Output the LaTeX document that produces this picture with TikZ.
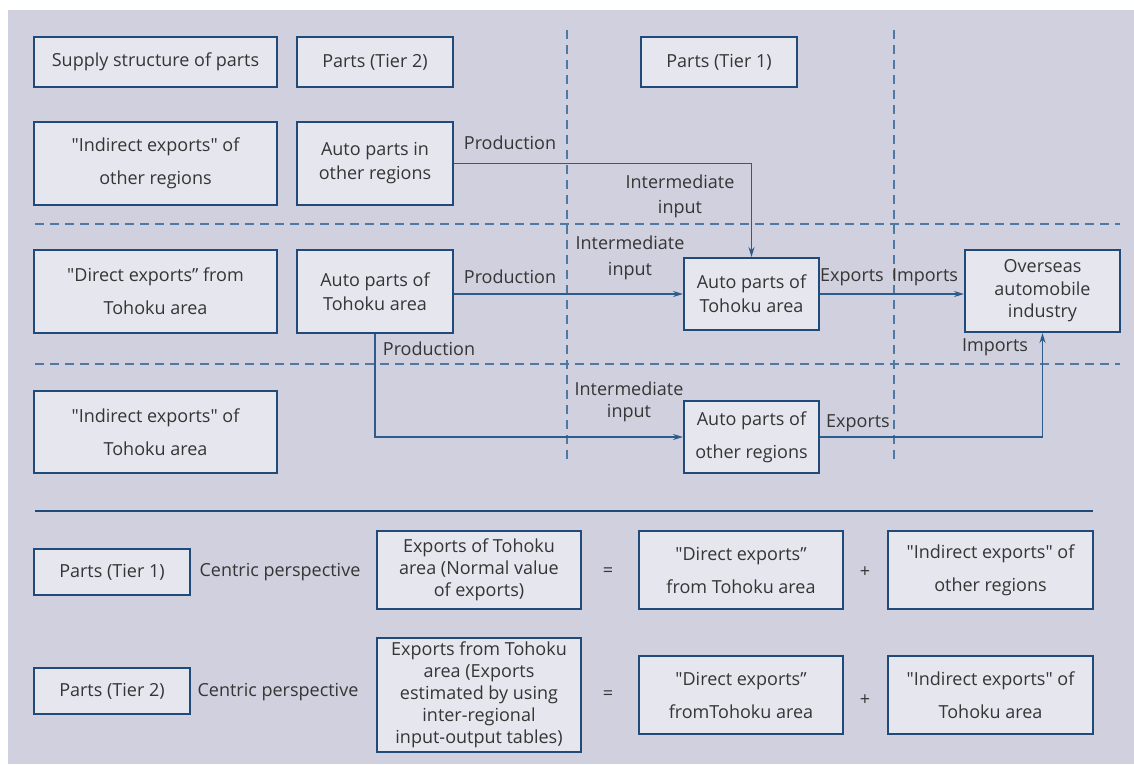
\documentclass[tikz,border=0pt]{standalone}
\usepackage{fontspec}
\setmainfont{Open Sans}[Ligatures=TeXOff]
\usetikzlibrary{arrows.meta}
\definecolor{bgcol}{HTML}{D0D0DE}
\definecolor{boxfill}{HTML}{E6E6EF}
\definecolor{boxline}{HTML}{1F4A7A}
\definecolor{flowcol}{HTML}{2D5B8C}
\definecolor{sepcol}{HTML}{4F79A3}
\definecolor{txtcol}{HTML}{353535}
\tikzset{
 box/.style={draw=boxline, line width=2pt, fill=boxfill, inner sep=0pt, align=center, text=txtcol},
 lbl/.style={inner sep=0pt, align=center, text=txtcol},
 flow/.style={draw=flowcol, line width=1.3pt, -{Stealth[length=10pt,width=6pt]}},
 sepline/.style={draw=sepcol, line width=1.3pt, dash pattern=on 9pt off 6pt},
 wide/.style={font=\fontsize{18}{33}\selectfont},
}
\newcommand{\panel}[7][]{%
 \node[box,minimum width={(#5-#3)*1pt},minimum height={(#6-#4)*1pt},#1] (#2) at ({(#3+#5)/2},{(#4+#6)/2}) {#7};%
}
\begin{document}
\begin{tikzpicture}[x=1pt,y=-1pt,font=\fontsize{18}{24}\selectfont]
 \useasboundingbox (0,0) rectangle (1134,764);
 \fill[bgcol] (8,10) rectangle (1134,764);
 \draw[sepline] (567,30) -- (567,460);
 \draw[sepline] (894,30) -- (894,460);
 \draw[sepline] (35,224) -- (1120,224);
 \draw[sepline] (35,364) -- (1120,364);
 \draw[boxline, line width=1.5pt] (35,511) -- (1093,511);
 \panel{sup}{34}{37}{277}{87}{Supply structure of parts}
 \panel{tiertwo}{297}{37}{453}{87}{Parts (Tier 2)}
 \panel{tierone}{641}{37}{797}{87}{Parts (Tier 1)}
 \panel[wide]{indoth}{34}{122}{277}{205}{"Indirect exports" of\\other regions}
 \panel{apin}{297}{122}{453}{205}{Auto parts in\\other regions}
 \panel[wide]{dirtoh}{34}{250}{277}{333}{"Direct exports” from\\Tohoku area}
 \panel{aptoh}{297}{250}{453}{333}{Auto parts of\\Tohoku area}
 \panel{aptohb}{684}{258}{819}{330}{Auto parts of\\Tohoku area}
 \panel[font=\fontsize{18}{22.5}\selectfont]{overseas}{965}{250}{1120}{332}{Overseas\\automobile\\industry}
 \panel[wide]{indtoh}{34}{391}{277}{473}{"Indirect exports" of\\Tohoku area}
 \panel[wide]{apoth}{684}{401}{819}{473}{Auto parts of\\other regions}
 \draw[flow] (apin.east) -| (aptohb.north);
 \draw[flow] (aptohb.west -| aptoh.east) -- (aptohb.west);
 \draw[flow] (aptoh.south) |- (apoth.west);
 \draw[flow] (aptohb.east) -- (aptohb.east -| overseas.west);
 \draw[flow] (apoth.east) -| (overseas.south);
 \node[lbl] (prodA) at (510,143) {Production};
 \node[lbl,font=\fontsize{18}{25}\selectfont] (interA) at (680,196) {Intermediate\\input};
 \node[lbl] (prodB) at (510,277) {Production};
 \node[lbl,font=\fontsize{18}{26}\selectfont] (interB) at (630,258) {Intermediate\\input};
 \node[lbl] (prodC) at (429,349) {Production};
 \node[lbl,font=\fontsize{18}{22}\selectfont] (interC) at (629,402) {Intermediate\\input};
 \node[lbl] (expA) at (852,277) {Exports};
 \node[lbl] (impA) at (925,277) {Imports};
 \node[lbl] (expB) at (858,423) {Exports};
 \node[lbl] (impB) at (995,347) {Imports};
 \panel{pone}{34}{549}{190}{595}{Parts (Tier 1)}
 \node[lbl] (cenA) at (280,572) {Centric perspective};
 \panel[font=\fontsize{18}{22}\selectfont]{expone}{377}{531}{581}{609}{Exports of Tohoku\\area (Normal value\\of exports)}
 \node[lbl] (eqA) at (608,572) {=};
 \panel[wide]{dirone}{639}{531}{843}{609}{"Direct exports”\\from Tohoku area}
 \node[lbl] (plA) at (865,572) {+};
 \panel[wide]{indone}{888}{531}{1093}{609}{"Indirect exports" of\\other regions}
 \panel{ptwo}{34}{668}{190}{714}{Parts (Tier 2)}
 \node[lbl] (cenB) at (278,692) {Centric perspective};
 \panel[font=\fontsize{18}{22}\selectfont]{exptwo}{377}{638}{581}{752}{Exports from Tohoku\\area (Exports\\estimated by using\\inter-regional\\input-output tables)}
 \node[lbl] (eqB) at (608,695) {=};
 \panel[wide]{dirtwo}{639}{656}{843}{734}{"Direct exports”\\fromTohoku area}
 \node[lbl] (plB) at (865,700) {+};
 \panel[wide]{indtwo}{888}{656}{1093}{734}{"Indirect exports" of\\Tohoku area}
\end{tikzpicture}
\end{document}
